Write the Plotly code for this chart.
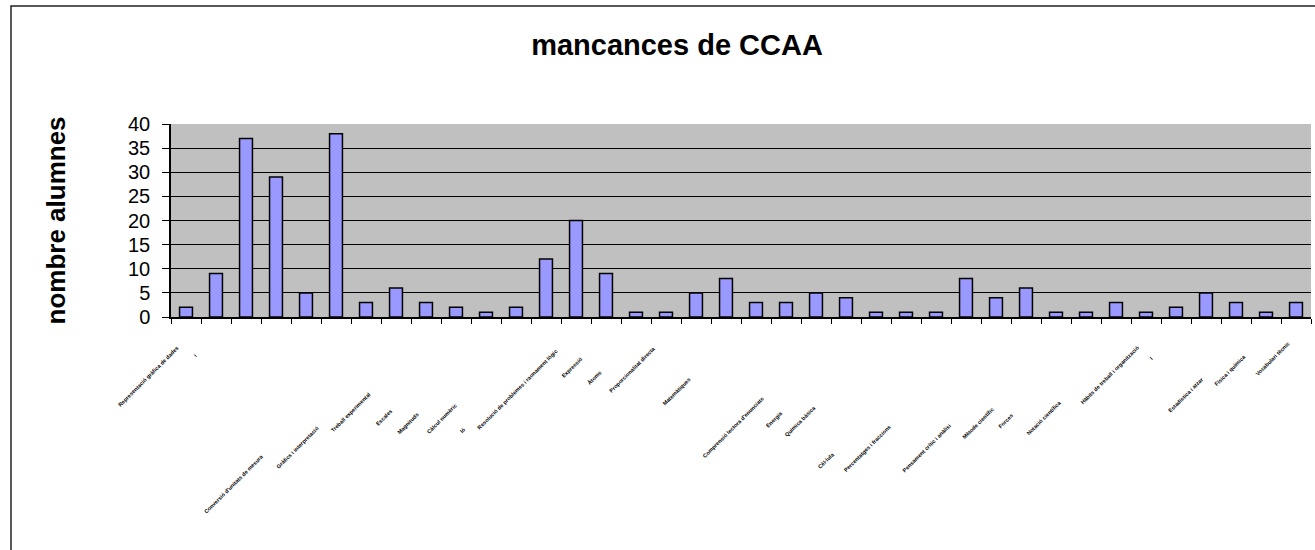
import plotly.graph_objects as go

# ---- data ----
values = [2, 9, 37, 29, 5, 38, 3, 6, 3, 2, 1, 2, 12, 20, 9, 1, 1, 5, 8, 3,
          3, 5, 4, 1, 1, 1, 8, 4, 6, 1, 1, 3, 1, 2, 5, 3, 1, 3]

categories = [
    "Representació gràfica de dades", "i", "", "Conversió d'unitats de mesura", "",
    "Gràfics i interpretació", "Treball experimental", "Escales", "Magnituds", "Càlcul numèric",
    "Ió", "", "Resolució de problemes i raonament lògic", "Expressió", "Àtoms",
    "", "Proporcionalitat directa", "Matemàtiques", "", "Comprensió lectora d'enunciats",
    "Energia", "Química bàsica", "Cèl·lula", "", "Percentatges i fraccions",
    "", "Pensament crític i anàlisi", "Mètode científic", "Forces", "Notació científica",
    "", "", "Hàbits de treball i organització", "I", "Estadística i atzar",
    "Física i química", "", "Vocabulari tècnic",
]

title_text = "mancances de CCAA"
y_title = "nombre alumnes"
y_ticks = [0, 5, 10, 15, 20, 25, 30, 35, 40]

# ---- label placement (layout only: pixel shift of label end, pixel y of label end) ----
label_offsets = {
    0: (-3, 342), 1: (-15, 349), 3: (-9, 450), 5: (-13, 422), 6: (9, 388),
    7: (1, 405), 8: (-3, 408), 9: (4, 400), 10: (-16, 423), 12: (16, 345),
    13: (11, 353), 14: (-1, 367), 16: (-6, 342), 17: (-1, 373), 19: (12, 392),
    20: (1, 407), 21: (4, 402), 22: (-7, 448), 24: (-11, 420), 26: (-11, 420),
    27: (2, 403), 28: (-9, 410), 29: (9, 397), 32: (-3, 342), 33: (-19, 352),
    34: (1, 373), 35: (14, 350), 37: (-3, 338),
}

W, H = 1315, 550
L, R, T, B = 171, 4, 124, 233
plot_w = W - L - R
plot_h = H - T - B
plot_bottom = H - B

FONT = "Arial, Liberation Sans, sans-serif"

x_idx = list(range(len(values)))

fig = go.Figure(go.Bar(
    x=x_idx, y=values, width=0.43,
    marker=dict(color="#9999FF", line=dict(color="black", width=1.5)),
    hoverinfo="y",
))

annotations = []
for i, lab in enumerate(categories):
    if not lab:
        continue
    dx, ey = label_offsets.get(i, (0, 335))
    annotations.append(dict(
        text="<b>" + lab + "</b>", x=i, xref="x", y=0, yref="paper",
        xanchor="right", yanchor="top", xshift=dx, yshift=-(ey - plot_bottom),
        textangle=-45, showarrow=False,
        font=dict(family=FONT, size=5.5, color="black"),
    ))

annotations.append(dict(
    text="<b>" + y_title + "</b>", xref="paper", yref="paper",
    x=(55 - L) / plot_w, y=0.5, xanchor="center", yanchor="middle",
    textangle=-90, showarrow=False,
    font=dict(family=FONT, size=26, color="black"),
))

fig.update_layout(
    width=W, height=H,
    margin=dict(l=L, r=R, t=T, b=B, pad=0),
    paper_bgcolor="white", plot_bgcolor="#C0C0C0",
    showlegend=False,
    title=dict(text="<b>" + title_text + "</b>", x=677 / W, xref="container",
               xanchor="center", y=1 - 45 / H, yanchor="middle",
               font=dict(family=FONT, size=29, color="black")),
    annotations=annotations,
    shapes=[dict(type="rect", xref="paper", yref="paper",
                 x0=(11 - L) / plot_w, x1=(W + 5 - L) / plot_w,
                 y0=-(H + 5 - plot_bottom) / plot_h, y1=1 + (T - 6) / plot_h,
                 line=dict(color="#222222", width=1.5), fillcolor="rgba(0,0,0,0)", layer="below")],
)

fig.update_xaxes(
    range=[-0.5, len(values) - 0.5], tickmode="array",
    tickvals=[k - 0.5 for k in range(len(values) + 1)],
    showticklabels=False, ticks="outside", ticklen=5, tickcolor="black", tickwidth=1,
    showgrid=False, zeroline=False, showline=True, linecolor="black", linewidth=1.5,
)
fig.update_yaxes(
    range=[0, 40], tickmode="array", tickvals=y_ticks, ticktext=[str(v) for v in y_ticks],
    ticks="outside", ticklen=7, tickcolor="black", tickwidth=1,
    tickfont=dict(family=FONT, size=20, color="black"), ticklabelstandoff=8,
    showgrid=True, gridcolor="black", gridwidth=1,
    zeroline=False, showline=True, linecolor="black", linewidth=1.5,
)

fig.write_html("out.html", config={"displayModeBar": False},
               post_script="document.body.style.margin='0';document.body.style.overflow='hidden';")
